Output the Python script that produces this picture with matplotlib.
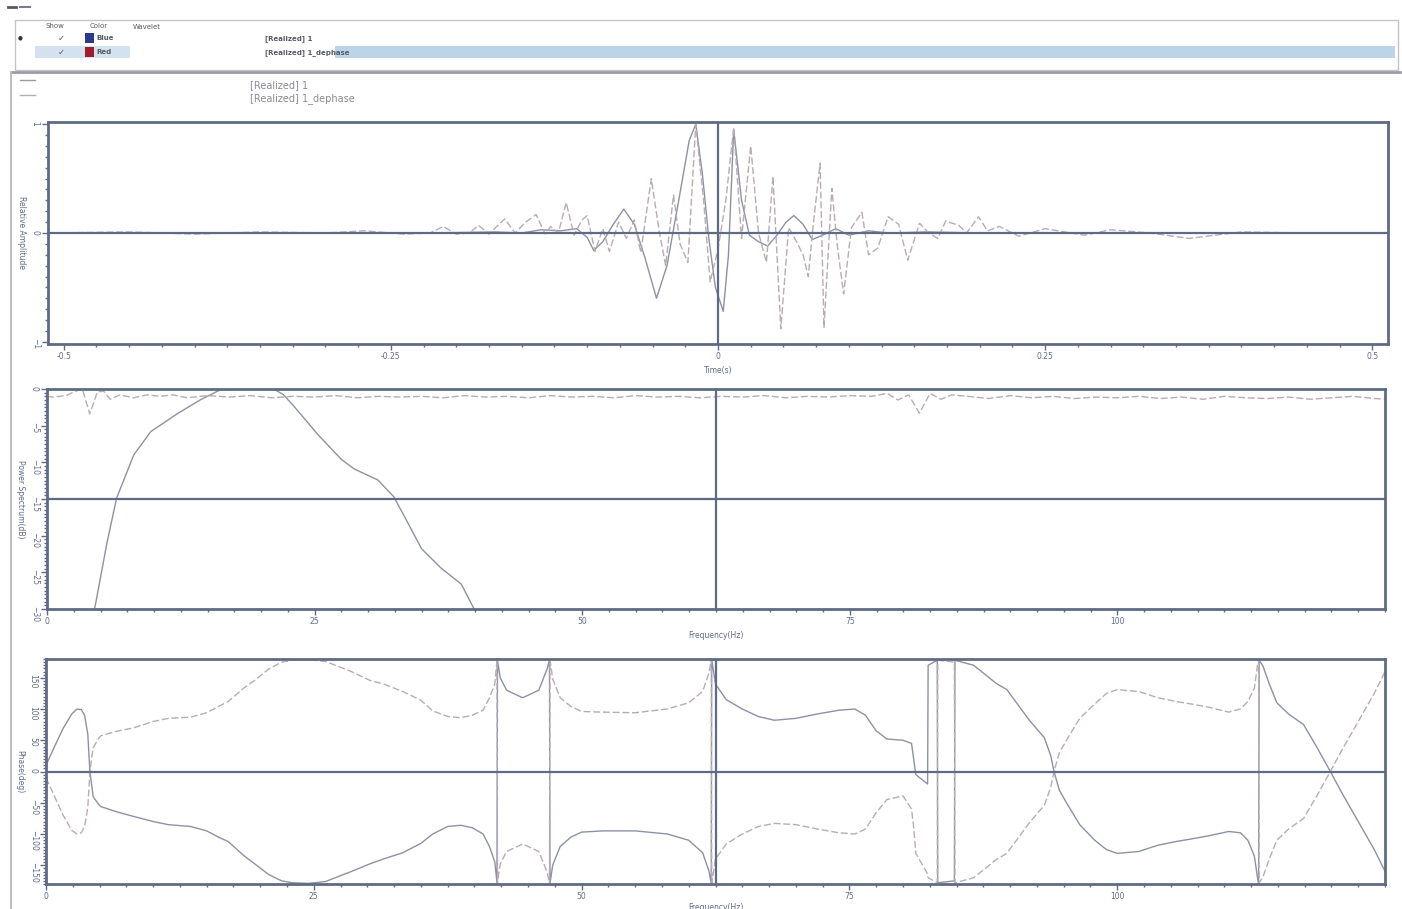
import numpy as np
import matplotlib.pyplot as plt
from matplotlib.patches import Rectangle
from matplotlib.lines import Line2D
from matplotlib.ticker import MultipleLocator

# ---- data ----
# time panel (s, relative amplitude)
t_blue = [-0.512, -0.40, -0.30, -0.22, -0.17, -0.15, -0.135, -0.12, -0.108, -0.100,
          -0.095, -0.088, -0.080, -0.072, -0.064, -0.056, -0.047, -0.039, -0.030, -0.022,
          -0.017, -0.012, -0.007, -0.002, 0.004, 0.008, 0.012, 0.018, 0.024, 0.031,
          0.038, 0.045, 0.052, 0.058, 0.065, 0.072, 0.080, 0.090, 0.100, 0.115,
          0.13, 0.16, 0.20, 0.30, 0.40, 0.512]
a_blue = [0.0, 0.0, 0.0, 0.0, 0.01, 0.0, 0.03, 0.02, 0.04, -0.04,
          -0.16, -0.08, 0.08, 0.22, 0.08, -0.22, -0.6, -0.3, 0.3, 0.85,
          1.0, 0.55, -0.05, -0.5, -0.72, -0.2, 0.95, 0.3, -0.02, -0.08,
          -0.12, -0.02, 0.1, 0.16, 0.08, -0.06, -0.02, 0.04, -0.02, 0.02,
          0.0, 0.01, 0.0, 0.0, 0.0, 0.0]

t_red = [-0.512, -0.45, -0.40, -0.35, -0.30, -0.27, -0.24, -0.22, -0.21, -0.20,
         -0.19, -0.183, -0.175, -0.163, -0.155, -0.147, -0.139, -0.132, -0.128, -0.122,
         -0.116, -0.110, -0.104, -0.100, -0.094, -0.088, -0.083, -0.076, -0.070, -0.064,
         -0.059, -0.051, -0.045, -0.040, -0.034, -0.029, -0.023, -0.017, -0.011, -0.006,
         0.0, 0.006, 0.012, 0.018, 0.025, 0.031, 0.037, 0.042, 0.048, 0.054,
         0.060, 0.065, 0.069, 0.073, 0.078, 0.081, 0.087, 0.091, 0.096, 0.102,
         0.110, 0.115, 0.122, 0.130, 0.138, 0.145, 0.154, 0.161, 0.168, 0.174,
         0.184, 0.190, 0.199, 0.206, 0.215, 0.23, 0.25, 0.28, 0.30, 0.33,
         0.36, 0.40, 0.45, 0.512]
a_red = [0.0, 0.01, -0.01, 0.01, 0.0, 0.02, -0.01, 0.0, 0.06, -0.01,
         0.0, 0.07, -0.01, 0.13, 0.0, 0.1, 0.17, -0.01, 0.06, 0.0,
         0.28, -0.02, 0.12, 0.16, -0.17, 0.04, -0.17, 0.1, -0.05, 0.12,
         -0.18, 0.5, 0.02, -0.3, 0.35, -0.1, -0.27, 1.0, 0.3, -0.45,
         -0.15, 0.3, 0.97, -0.05, 0.8, 0.0, -0.27, 0.52, -0.88, 0.05,
         -0.08, -0.2, -0.4, 0.1, 0.64, -0.87, 0.41, -0.1, -0.56, 0.05,
         0.19, -0.2, -0.14, 0.15, 0.08, -0.25, 0.09, 0.0, -0.05, 0.11,
         0.07, 0.0, 0.15, 0.02, 0.06, -0.03, 0.04, -0.02, 0.03, 0.0,
         -0.05, 0.01, 0.0, 0.0]

# power spectrum (Hz, dB)
f_spec_blue = [4.0, 4.5, 5.6, 6.5, 8.1, 9.7, 12.2, 14.3, 16.2, 18.5, 21.2, 22.1,
               23.1, 25.3, 27.5, 28.7, 30.9, 32.4, 33.4, 35.0, 36.8, 38.7, 39.9, 40.5]
db_blue = [-32, -29.6, -21.0, -14.9, -9.0, -5.8, -3.35, -1.5, -0.1, 0.0, 0.0, -0.8,
           -2.4, -6.2, -9.6, -10.9, -12.4, -14.7, -17.4, -21.8, -24.4, -26.6, -30.0, -32]

f_spec_red = [0, 0.6, 1.8, 2.5, 3.3, 4.0, 4.7, 5.3, 5.9, 6.8,
              8.1, 9.3, 10.6, 11.8, 13.1, 15, 17, 19, 21, 23,
              25, 27, 29, 31, 33, 35, 37, 39, 41, 43,
              45, 47, 49, 51, 53, 55, 57, 59, 61, 63,
              65, 67, 69, 71, 73, 75, 77, 78.5, 79.5, 80.5,
              81.5, 82.5, 83.5, 84.5, 86, 88, 90, 92, 94, 96,
              98, 100, 102, 104, 106, 108, 110, 112, 114, 116,
              118, 120, 122, 124, 125.5]
db_red = [-1.0, -1.1, -0.9, -0.4, 0.0, -3.4, -0.4, -0.3, -1.4, -0.8,
          -1.2, -0.8, -1.0, -0.8, -1.2, -0.9, -1.1, -0.9, -1.2, -1.0,
          -1.1, -0.9, -1.2, -1.0, -1.1, -1.0, -1.2, -0.9, -1.1, -1.0,
          -1.2, -0.9, -1.1, -1.0, -1.2, -0.9, -1.1, -1.0, -1.2, -1.0,
          -1.1, -0.9, -1.2, -1.0, -1.1, -0.9, -1.0, -0.6, -1.5, -0.8,
          -3.3, -0.6, -1.4, -0.8, -1.0, -1.3, -0.9, -1.2, -1.0, -1.3,
          -1.1, -1.2, -1.0, -1.3, -1.1, -1.4, -1.0, -1.2, -1.3, -1.1,
          -1.4, -1.2, -1.0, -1.3, -1.4]

# phase spectrum (Hz, deg)
f_phase = [0, 0.8, 1.6, 2.4, 2.9, 3.3, 3.6, 3.9, 4.1, 4.4,
           4.8, 5.1, 6.5, 8.2, 10, 11.4, 13.5, 15, 16.1, 17,
           18.5, 19.5, 20.8, 22, 23, 24.5, 26.1, 27, 28.5, 30.2,
           31.5, 33.3, 35, 36.1, 37.5, 38.7, 39.8, 40.8, 41.4, 41.9,
           42.1, 42.15, 42.4, 43, 44.5, 46, 46.8, 47.0, 47.05, 47.3,
           48, 49, 50, 52, 55, 58, 60, 61.3, 61.9, 62.1,
           62.15, 62.5, 63.5, 65, 66.5, 68, 70, 72, 74, 75.5,
           76.5, 77.5, 78.5, 80, 80.8, 81.0, 81.2, 82.3, 82.35, 83.2,
           83.25, 84.8, 84.85, 85.3, 86.6, 88.7, 89.7, 91.8, 93.2, 93.8,
           94.1, 94.6, 95.4, 96.5, 97.9, 99, 100, 102, 103.8, 105.5,
           106.9, 108.5, 110.4, 111.5, 112.2, 112.8, 113.1, 113.2, 113.25, 113.6,
           114.2, 114.9, 116, 117.4, 118.6, 119.9, 121, 122.5, 124, 125.3,
           125.5]
ph_blue = [10, 40, 69, 92, 100, 99, 90, 60, 0, -40,
           -50, -56, -64, -72, -80, -85, -88, -95, -105, -112,
           -135, -148, -165, -175, -178, -179, -176, -170, -160, -148,
           -140, -130, -115, -100, -88, -86, -90, -100, -120, -145,
           -178, 178, 150, 130, 118, 130, 165, 179, -179, -150,
           -120, -105, -97, -95, -95, -100, -110, -130, -160, -179,
           179, 140, 115, 100, 88, 82, 85, 92, 98, 100,
           90, 65, 52, 50, 45, 20, -5, -20, 170, 178,
           -178, -175, 178, 176, 170, 141, 131, 82, 54, 25,
           0, -30, -54, -85, -110, -125, -131, -128, -118, -112,
           -108, -103, -96, -98, -110, -135, -170, -179, 178, 169,
           140, 110, 92, 75, 40, 0, -35, -80, -125, -170,
           -178]
ph_red = [-10, -40, -70, -94, -100, -98, -88, -58, 0, 38,
          50, 57, 64, 70, 80, 85, 87, 94, 104, 112,
          134, 146, 164, 175, 178, 179, 176, 170, 160, 146,
          140, 128, 114, 97, 88, 86, 90, 98, 118, 140,
          178, -178, -148, -128, -116, -128, -162, -179, 179, 148,
          118, 104, 96, 95, 94, 100, 110, 128, 158, 179,
          -179, -140, -116, -100, -88, -83, -85, -92, -98, -100,
          -92, -66, -45, -39, -60, -89, -131, -164, -170, -178,
          178, 175, -178, -176, -170, -141, -131, -82, -54, -25,
          0, 30, 54, 85, 108, 125, 131, 128, 118, 112,
          108, 103, 95, 100, 112, 133, 170, 179, -178, -169,
          -140, -110, -92, -75, -40, 0, 35, 80, 125, 170,
          178]

labels = ["[Realized] 1", "[Realized] 1_dephase"]

# ---- style ----
W, H = 1402, 909
frame = '#5f6b85'
c_blue = '#8d91a4'
c_red = '#b9abb3'


def px(x, y):
    return x / W, 1 - y / H


fig = plt.figure(figsize=(W / 100, H / 100), dpi=100)

# header table
fig.add_artist(Rectangle(px(15, 70), 1383 / W, 50 / H, fill=False, ec='#c4c4c4', lw=1))
fig.add_artist(Rectangle(px(335, 58), 1060 / W, 12 / H, color='#bcd4e8', lw=0))
fig.add_artist(Rectangle(px(35, 58), 95 / W, 12 / H, color='#d3e2ee', lw=0))
fig.add_artist(Line2D([12 / W, 1400 / W], [1 - 72 / H] * 2, color='#9c9ca4', lw=2))
fig.add_artist(Line2D([11 / W, 11 / W], [1 - 72 / H, 0], color='#bdbdc4', lw=1.5))
fig.add_artist(Line2D([8 / W, 16 / W], [1 - 7 / H] * 2, color='#555a66', lw=2))
fig.add_artist(Line2D([20 / W, 30 / W], [1 - 7 / H] * 2, color='#777c88', lw=1.5))
hdr = dict(fontsize=5, color='#555a66', va='center')
fig.text(*px(45, 26), "Show", **hdr)
fig.text(*px(90, 26), "Color", **hdr)
fig.text(*px(133, 27), "Wavelet", **hdr)
fig.text(*px(18, 38), "\u25cf", fontsize=4, color='#333', va='center')
fig.text(*px(58, 38), "\u2713", fontsize=6, color='#555', va='center')
fig.text(*px(58, 52), "\u2713", fontsize=6, color='#555', va='center')
fig.add_artist(Rectangle(px(85, 43), 9 / W, 10 / H, color='#2b3a8c', lw=0))
fig.add_artist(Rectangle(px(85, 57), 9 / W, 10 / H, color='#a01c2c', lw=0))
fig.text(*px(96, 38), "Blue", fontweight='bold', **hdr)
fig.text(*px(96, 52), "Red", fontweight='bold', **hdr)
fig.text(*px(265, 39), labels[0], fontweight='bold', **hdr)
fig.text(*px(265, 53), labels[1], fontweight='bold', **hdr)

# legend under the table
fig.add_artist(Line2D([20 / W, 35 / W], [1 - 80 / H] * 2, color='#9a9aa8', lw=1))
fig.add_artist(Line2D([20 / W, 35 / W], [1 - 95 / H] * 2, color='#b9abb3', lw=1))
fig.text(*px(250, 85), labels[0], fontsize=7, color='#8a8a96', va='center')
fig.text(*px(250, 99), labels[1], fontsize=7, color='#8a8a96', va='center')


def style(ax):
    for s in ax.spines.values():
        s.set_color(frame)
        s.set_linewidth(2)
    ax.tick_params(which='both', direction='out', color=frame, labelcolor=frame,
                   labelsize=5.5, width=1, pad=2)
    ax.tick_params(which='major', length=4)
    ax.tick_params(which='minor', length=2)
    ax.tick_params(axis='y', labelrotation=270)


lab = dict(fontsize=5.5, color=frame)

# time panel
ax1 = fig.add_axes([48 / W, 1 - 344 / H, 1340 / W, 222 / H])
ax1.plot(t_blue, a_blue, color=c_blue, lw=1.0, zorder=2)
ax1.plot(t_red, a_red, color=c_red, lw=1.0, ls=(0, (5, 2)), zorder=2)
ax1.axhline(0, color=frame, lw=1.6, zorder=3)
ax1.axvline(0, color=frame, lw=1.6, zorder=3)
ax1.set_xlim(-0.512, 0.512)
ax1.set_ylim(-1.02, 1.02)
ax1.set_xticks([-0.5, -0.25, 0, 0.25, 0.5])
ax1.set_xticklabels(["-0.5", "-0.25", "0", "0.25", "0.5"])
ax1.xaxis.set_minor_locator(MultipleLocator(0.025))
ax1.set_yticks([-1, 0, 1])
ax1.yaxis.set_minor_locator(MultipleLocator(0.1))
ax1.set_xlabel("Time(s)", labelpad=3, **lab)
ax1.set_ylabel("Relative Amplitude", rotation=270, labelpad=10, **lab)
style(ax1)

# power spectrum panel
ax2 = fig.add_axes([47 / W, 1 - 609 / H, 1338 / W, 220 / H])
ax2.plot(f_spec_blue, db_blue, color=c_blue, lw=1.0, zorder=2)
ax2.plot(f_spec_red, db_red, color=c_red, lw=1.0, ls=(0, (5, 2)), zorder=2)
ax2.axhline(-15, color=frame, lw=1.6, zorder=3)
ax2.axvline(62.5, color=frame, lw=1.6, zorder=3)
ax2.set_xlim(0, 125)
ax2.set_ylim(-30, 0)
ax2.set_xticks([0, 25, 50, 75, 100])
ax2.xaxis.set_minor_locator(MultipleLocator(2.5))
ax2.set_yticks([0, -5, -10, -15, -20, -25, -30])
ax2.yaxis.set_minor_locator(MultipleLocator(0.5))
ax2.set_xlabel("Frequency(Hz)", labelpad=3, **lab)
ax2.set_ylabel("Power Spectrum(dB)", rotation=270, labelpad=10, **lab)
style(ax2)

# phase panel
ax3 = fig.add_axes([46 / W, 1 - 884 / H, 1339 / W, 225 / H])
ax3.plot(f_phase, ph_blue, color=c_blue, lw=1.0, zorder=2)
ax3.plot(f_phase, ph_red, color=c_red, lw=1.0, ls=(0, (5, 2)), zorder=2)
ax3.axhline(0, color=frame, lw=1.6, zorder=3)
ax3.axvline(62.5, color=frame, lw=1.6, zorder=3)
ax3.set_xlim(0, 125)
ax3.set_ylim(-180, 180)
ax3.set_xticks([0, 25, 50, 75, 100])
ax3.xaxis.set_minor_locator(MultipleLocator(2.5))
ax3.set_yticks([-150, -100, -50, 0, 50, 100, 150])
ax3.yaxis.set_minor_locator(MultipleLocator(5))
ax3.set_xlabel("Frequency(Hz)", labelpad=1, **lab)
ax3.set_ylabel("Phase(deg)", rotation=270, labelpad=10, **lab)
style(ax3)

fig.savefig("out.png", dpi=100, facecolor='white')
